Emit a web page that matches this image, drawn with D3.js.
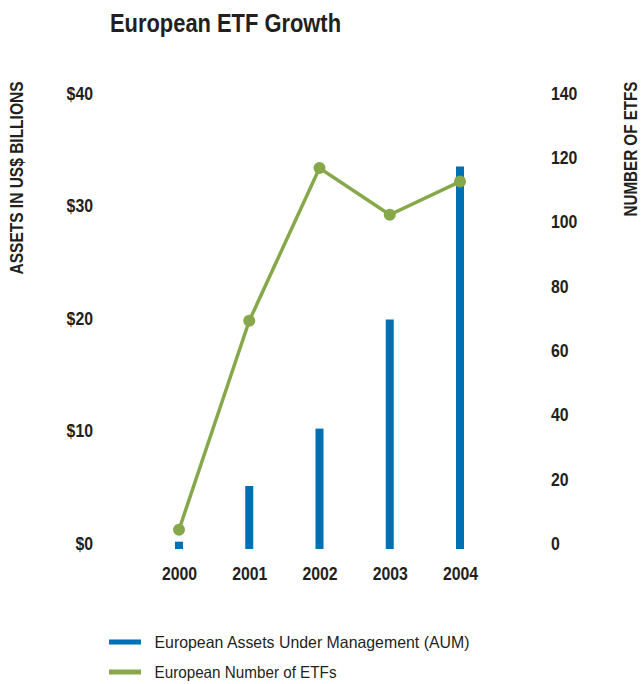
<!DOCTYPE html>
<html><head><meta charset="utf-8">
<script src="https://cdn.jsdelivr.net/npm/d3@7"></script>
<style>
body{margin:0;background:#fff;}
svg text{font-family:"Liberation Sans",Arial,Helvetica,sans-serif;}
</style></head>
<body><svg id="c" width="642" height="684"></svg>
<script>
const years = ["2000","2001","2002","2003","2004"];
const aum = [0.65, 5.6, 10.7, 20.4, 34.0];
const etfCount = [6, 71, 118.5, 104, 114.3];
const leftTicks = [0,10,20,30,40];
const rightTicks = [0,20,40,60,80,100,120,140];
const blue = "#0070b4", green = "#86a84a", ink = "#231f20";

const svg = d3.select("#c");
const x = d3.scalePoint().domain(years).range([179,460]);
const yL = d3.scaleLinear().domain([0,40]).range([549,99]);
const yR = d3.scaleLinear().domain([0,140]).range([549,99]);

svg.append("text").attr("x",110).attr("y",32).attr("font-size",25.5).attr("font-weight","bold")
  .attr("fill",ink).attr("textLength",231).attr("lengthAdjust","spacingAndGlyphs")
  .text("European ETF Growth");

const narrow = "scale(0.88,1)";

// left axis
const gl = svg.append("g").attr("transform","translate(93,0)")
  .call(d3.axisLeft(yL).tickValues(leftTicks).tickSize(0).tickPadding(0).tickFormat(d=>"$"+d));
gl.select(".domain").remove();
gl.selectAll("text").attr("font-size",18).attr("font-weight","bold").attr("fill",ink)
  .attr("dy","0.35em").attr("transform","translate(0,-6) "+narrow);

// right axis
const gr = svg.append("g").attr("transform","translate(551,0)")
  .call(d3.axisRight(yR).tickValues(rightTicks).tickSize(0).tickPadding(0));
gr.select(".domain").remove();
gr.selectAll("text").attr("font-size",18).attr("font-weight","bold").attr("fill",ink)
  .attr("dy","0.35em").attr("transform","translate(0,-6) "+narrow);

// x axis labels
const gx = svg.append("g").attr("transform","translate(0,573.5)")
  .call(d3.axisBottom(x).tickSize(0).tickPadding(0));
gx.select(".domain").remove();
gx.selectAll("text").attr("font-size",18).attr("font-weight","bold").attr("fill",ink)
  .attr("dy","0.35em").attr("transform",narrow);

// axis titles
svg.append("text").attr("transform","translate(23,178) rotate(-90)").attr("text-anchor","middle")
  .attr("font-size",17.5).attr("font-weight","bold").attr("fill",ink)
  .attr("textLength",193).attr("lengthAdjust","spacingAndGlyphs").text("ASSETS IN US$ BILLIONS");
svg.append("text").attr("transform","translate(636.5,149) rotate(-90)").attr("text-anchor","middle")
  .attr("font-size",17.5).attr("font-weight","bold").attr("fill",ink)
  .attr("textLength",135).attr("lengthAdjust","spacingAndGlyphs").text("NUMBER OF ETFS");

// bars
svg.append("g").selectAll("rect").data(years).join("rect")
  .attr("x",d=>x(d)-4).attr("width",8)
  .attr("y",(d,i)=>yL(aum[i])).attr("height",(d,i)=>yL(0)-yL(aum[i]))
  .attr("fill",blue);

// line
const line = d3.line().x((d,i)=>x(years[i])).y(d=>yR(d));
svg.append("path").datum(etfCount).attr("d",line).attr("fill","none")
  .attr("stroke",green).attr("stroke-width",3.5);
svg.append("g").selectAll("circle").data(etfCount).join("circle")
  .attr("cx",(d,i)=>x(years[i])).attr("cy",d=>yR(d)).attr("r",6).attr("fill",green);

// legend
const legend = [{label:"European Assets Under Management (AUM)",color:blue,len:315},
                {label:"European Number of ETFs",color:green,len:182}];
const lg = svg.append("g").selectAll("g").data(legend).join("g")
  .attr("transform",(d,i)=>`translate(109,${642+i*30})`);
lg.append("rect").attr("x",0).attr("y",-2.5).attr("width",32).attr("height",5).attr("fill",d=>d.color);
lg.append("text").attr("x",45.5).attr("dy","0.36em").attr("font-size",16.5).attr("fill",ink)
  .attr("textLength",d=>d.len).attr("lengthAdjust","spacingAndGlyphs").text(d=>d.label);
</script></body></html>
